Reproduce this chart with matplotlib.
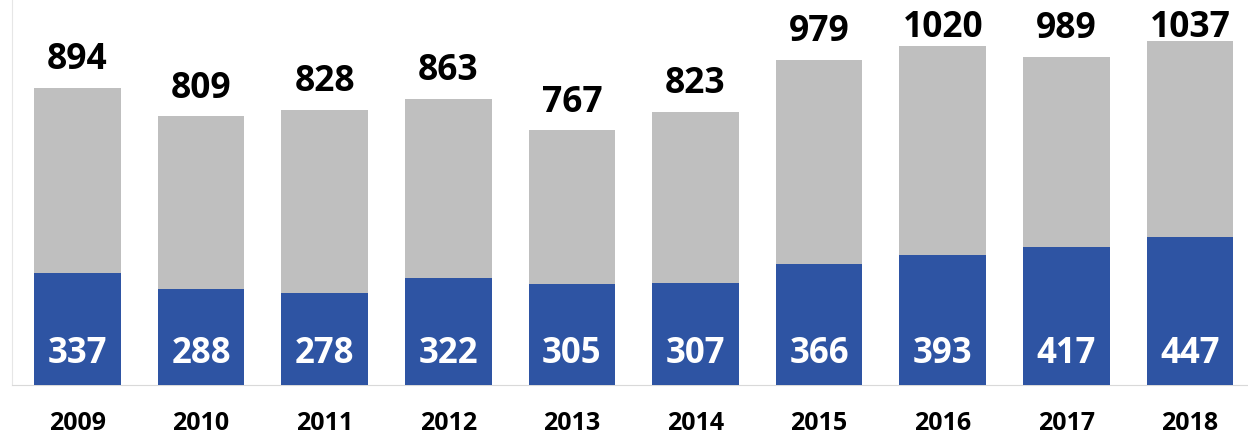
import matplotlib.pyplot as plt

years = ['2009', '2010', '2011', '2012', '2013', '2014', '2015', '2016', '2017', '2018']
totals = [894, 809, 828, 863, 767, 823, 979, 1020, 989, 1037]
subset = [337, 288, 278, 322, 305, 307, 366, 393, 417, 447]

plt.rcParams['font.family'] = ['Open Sans', 'DejaVu Sans']

fig = plt.figure(figsize=(12.48, 4.36), dpi=100)
ax = fig.add_axes([12 / 1248, 51 / 436, 1236 / 1248, 385 / 436])

x = list(range(len(years)))
# both series start at zero, the blue part sits in front of the grey total
ax.bar(x, totals, width=0.7, color='#BFBFBF', zorder=2)
ax.bar(x, subset, width=0.7, color='#2E54A3', zorder=3)

# total labels float above the bars but are kept inside the plot area
label_gap = 57
label_max = 1048
for i in x:
    ax.text(i, min(totals[i] + label_gap, label_max), str(totals[i]),
            ha='center', va='baseline', fontsize=25.5, fontweight='bold',
            color='black')
    ax.annotate(str(subset[i]), xy=(i, 0), xytext=(0, 16),
                textcoords='offset points', ha='center', va='baseline',
                fontsize=25, fontweight='bold', color='white', zorder=4)

ax.set_xlim(-0.53, 9.47)
ax.set_ylim(0, 1160)
ax.set_xticks(x)
ax.set_xticklabels(years, fontsize=18, fontweight='bold')
ax.tick_params(axis='x', length=0, pad=19)
ax.set_yticks([])

for side in ['top', 'right']:
    ax.spines[side].set_visible(False)
ax.spines['bottom'].set_color('#D9D9D9')
ax.spines['left'].set_color('#E6E6E6')

fig.savefig('out.png', dpi=100)
